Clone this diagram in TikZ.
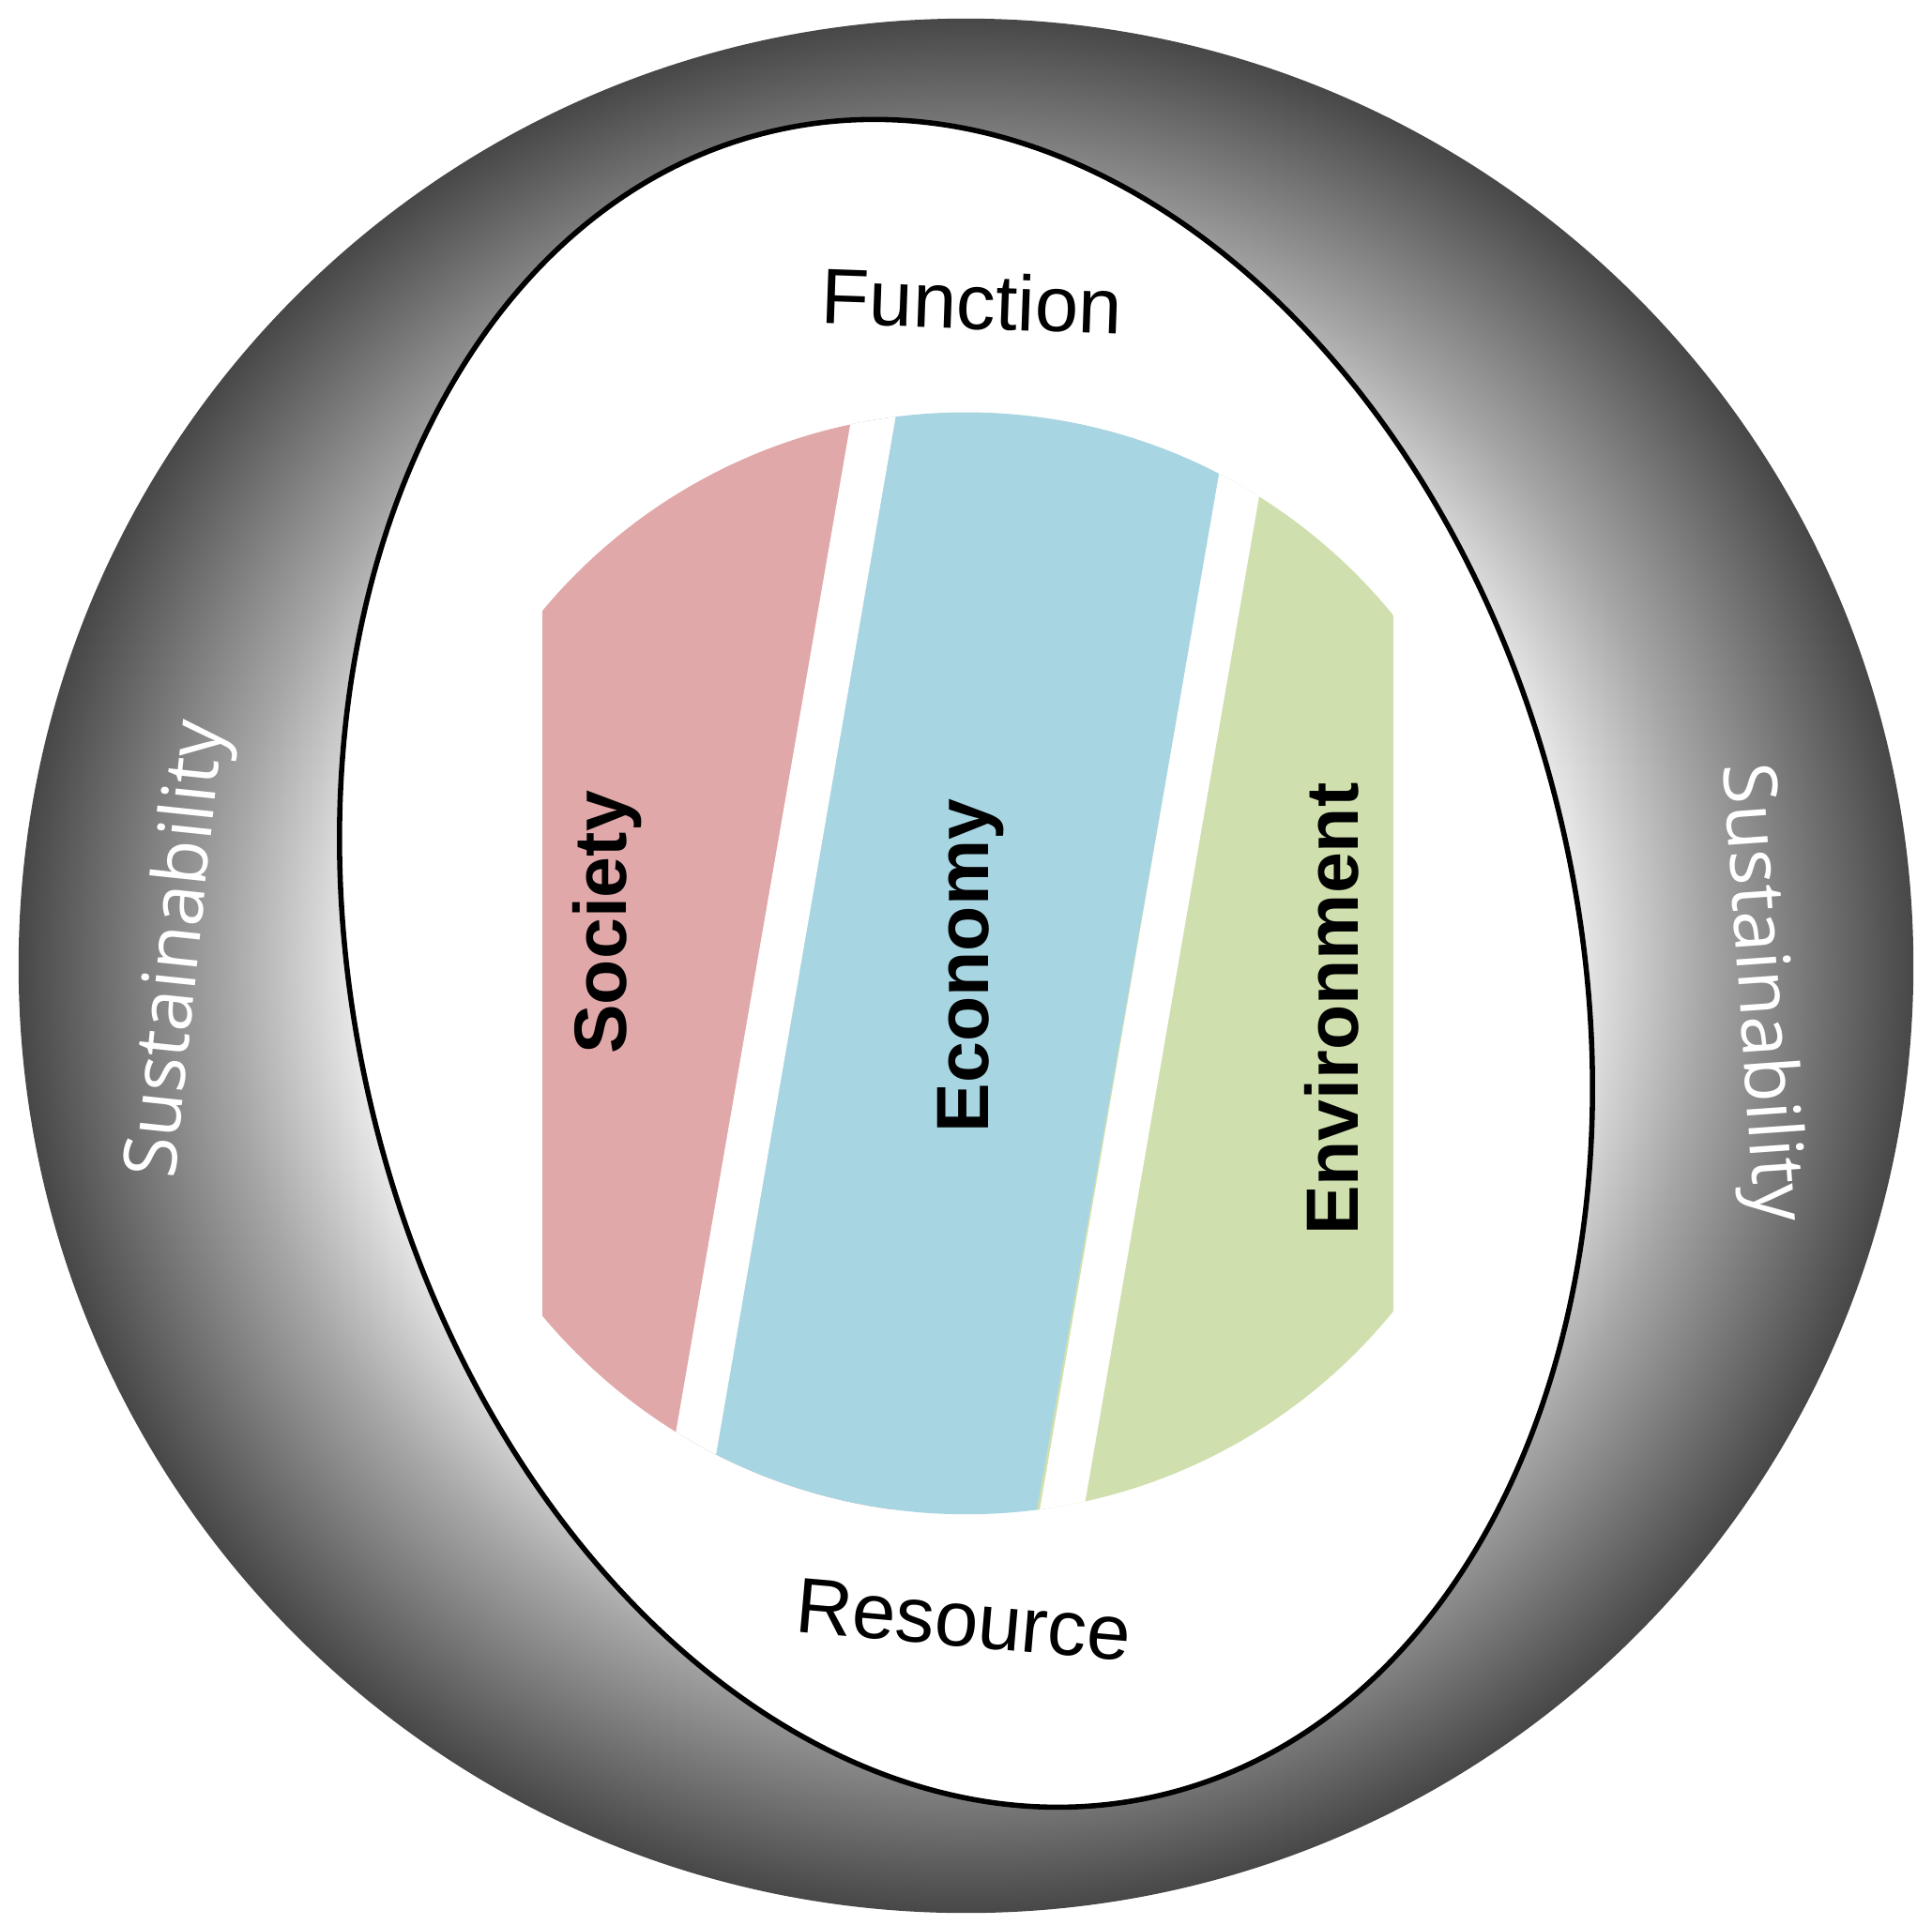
\documentclass[tikz,border=0pt]{standalone}
\usepackage{fontspec}
\setmainfont{Liberation Sans}
\newfontfamily\sustf{Open Sans}
\definecolor{soc}{HTML}{E0A8A8}
\definecolor{eco}{HTML}{A8D5E2}
\definecolor{env}{HTML}{CFDFAE}
\pgfdeclareradialshading{ringshade}{\pgfpoint{0bp}{0bp}}{color(0bp)=(white);color(15bp)=(white);color(19.5bp)=(black!35);color(25bp)=(black!72);color(50bp)=(black!72)}
\begin{document}
\begin{tikzpicture}[x=0.01cm,y=-0.01cm,
  lab/.style={font=\fontsize{17}{20}\selectfont\bfseries},
  ring/.style={font=\fontsize{18}{22}\selectfont},
  sus/.style={font=\sustf\fontsize{17}{20}\selectfont, text=white}]
\useasboundingbox (0,0) rectangle (1560,1554);
\shade[shading=ringshade] (780,780) circle [radius=765];
\coordinate (outer) at (780,780);
\fill[white, draw=black, line width=1.2pt, rotate around={-77:(780,778)}] (780,778) ellipse [x radius=690, y radius=494];
\begin{scope}
\clip (438,300) rectangle (1125,1260);
\clip (780,778) circle [radius=445];
\fill[soc] (300,300) rectangle (720,1260);
\fill[eco] (705,300) -- (1010,300) -- (840,1260) -- (535,1260) -- cycle;
\fill[env] (1000,300) -- (1200,300) -- (1200,1260) -- (830,1260) -- cycle;
\draw[white, line width=0.35cm] (710,310) -- (556,1200);
\draw[white, line width=0.35cm] (1006,360) -- (852,1250);
\end{scope}
\node[lab, rotate=90] (s) at (490,745) {Society};
\node[lab, rotate=90] (e) at (784,780) {Economy};
\node[lab, rotate=90] (v) at (1075,815) {Environment};
\node[ring, rotate=-2] (f) at (785,243) {Function};
\node[ring, rotate=-5] (r) at (778,1308) {Resource};
\node[sus, rotate=84] (s1) at (145,767) {Sustainability};
\node[sus, rotate=-86] (s2) at (1420,802) {Sustainability};
\end{tikzpicture}
\end{document}
